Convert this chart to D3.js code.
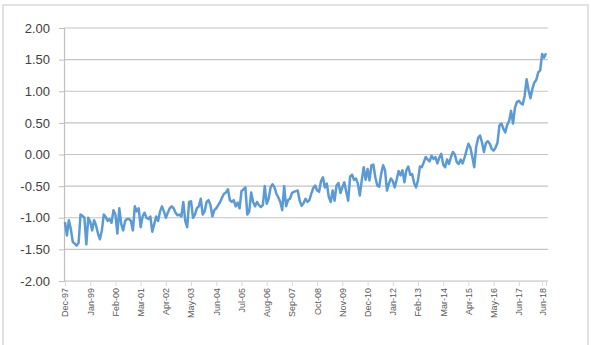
<!DOCTYPE html>
<html>
<head>
<meta charset="utf-8">
<script src="https://cdn.jsdelivr.net/npm/d3@7"></script>
<style>
  body { margin: 0; background: #fff; }
  svg { display: block; font-family: "Liberation Sans", Arial, sans-serif; }
</style>
</head>
<body>
<svg id="chart"></svg>
<script>
// monthly values, Dec-97 .. Dec-18
const values = [
  -1.07, -1.28, -1.04, -1.18, -1.38, -1.41, -1.44, -1.40, -0.95, -0.97, -1.00, -1.42,
  -1.00, -1.06, -1.20, -1.04, -1.12, -1.25, -1.34, -1.20, -0.95, -0.99, -1.05, -1.02,
  -1.08, -0.88, -0.95, -1.25, -0.85, -1.10, -1.20, -1.05, -1.02, -1.02, -1.05, -1.20,
  -0.82, -0.90, -0.85, -1.15, -0.98, -0.92, -1.00, -1.02, -0.98, -1.22, -1.10, -0.98,
  -1.05, -0.90, -0.82, -0.90, -1.00, -0.92, -0.85, -0.82, -0.85, -0.92, -0.96, -0.95,
  -0.98, -0.75, -1.05, -1.15, -0.75, -0.74, -1.00, -0.95, -0.85, -0.82, -0.70, -0.95,
  -0.90, -0.75, -0.72, -0.80, -0.98, -0.88, -0.85, -0.80, -0.75, -0.68, -0.62, -0.60,
  -0.55, -0.72, -0.75, -0.72, -0.82, -0.76, -0.85, -0.58, -0.55, -0.52, -0.95, -0.90,
  -0.60, -0.75, -0.82, -0.75, -0.80, -0.83, -0.80, -0.50, -0.78, -0.70, -0.52, -0.47,
  -0.52, -0.62, -0.68, -0.75, -0.88, -0.50, -0.82, -0.72, -0.70, -0.61, -0.59, -0.58,
  -0.57, -0.73, -0.81, -0.77, -0.70, -0.75, -0.72, -0.62, -0.53, -0.49, -0.57, -0.59,
  -0.42, -0.36, -0.52, -0.46, -0.67, -0.75, -0.57, -0.73, -0.49, -0.45, -0.61, -0.52,
  -0.44, -0.59, -0.73, -0.35, -0.32, -0.40, -0.38, -0.46, -0.65, -0.41, -0.20, -0.40,
  -0.23, -0.41, -0.17, -0.16, -0.36, -0.49, -0.51, -0.31, -0.17, -0.25, -0.57, -0.46,
  -0.38, -0.42, -0.52, -0.40, -0.26, -0.33, -0.25, -0.44, -0.25, -0.19, -0.32, -0.31,
  -0.45, -0.52, -0.41, -0.19, -0.20, -0.12, -0.04, -0.08, -0.11, -0.02, -0.07, -0.04,
  -0.14, -0.05, 0.01, -0.16, -0.20, -0.08, -0.15, -0.04, 0.04, 0.00, -0.12, -0.15,
  -0.08, -0.14, -0.05, 0.06, 0.17, 0.11, -0.04, -0.20, 0.12, 0.26, 0.30, 0.19,
  0.04, 0.18, 0.21, 0.17, 0.09, 0.06, 0.11, 0.19, 0.46, 0.49, 0.41, 0.35,
  0.47, 0.53, 0.69, 0.49, 0.74, 0.83, 0.85, 0.81, 0.79, 0.93, 1.19, 1.02,
  0.89, 1.04, 1.14, 1.18, 1.30, 1.33, 1.59, 1.53, 1.60
];

const tickLabels = ["Dec-97", "Jan-99", "Feb-00", "Mar-01", "Apr-02", "May-03", "Jun-04",
  "Jul-05", "Aug-06", "Sep-07", "Oct-08", "Nov-09", "Dec-10", "Jan-12", "Feb-13",
  "Mar-14", "Apr-15", "May-16", "Jun-17", "Jun-18"];

const yTicks = [-2, -1.5, -1, -0.5, 0, 0.5, 1, 1.5, 2];

const fmt = d3.timeFormat("%b-%y");
const months = values.map((v, i) => fmt(new Date(1997, 11 + i, 1)));

const width = 591, height = 345;
const svg = d3.select("#chart").attr("width", width).attr("height", height);

// outer chart frame
svg.append("rect")
   .attr("x", 3).attr("y", 5)
   .attr("width", 585).attr("height", 360)
   .attr("fill", "#fff")
   .attr("stroke", "#d9d9d9")
   .attr("stroke-width", 1.5);

const x = d3.scalePoint().domain(months).range([65, 546]);
const y = d3.scaleLinear().domain([-2, 2]).range([281, 28]);

// gridlines
svg.append("g")
   .selectAll("line")
   .data(yTicks)
   .enter()
   .append("line")
   .attr("x1", 64).attr("x2", 548)
   .attr("y1", d => y(d)).attr("y2", d => y(d))
   .attr("stroke", "#c4c4c4")
   .attr("stroke-width", 1.2);

// y axis
const yAxis = d3.axisLeft(y).tickValues(yTicks).tickSize(5).tickPadding(9)
                .tickFormat(d => d.toFixed(2));
const gy = svg.append("g").attr("transform", "translate(64,0)").call(yAxis);
gy.select(".domain").attr("stroke", "#bfbfbf").attr("stroke-width", 1.2);
gy.selectAll(".tick line").attr("stroke", "#bfbfbf");
gy.selectAll("text").attr("font-size", 13).attr("fill", "#404040");

// x axis
const xAxis = d3.axisBottom(x).tickValues(tickLabels).tickSize(5).tickPadding(4);
const gx = svg.append("g").attr("transform", "translate(0,281)").call(xAxis);
gx.select(".domain").attr("stroke", "#d9d9d9").attr("stroke-width", 1);
gx.selectAll(".tick line").attr("stroke", "#d9d9d9");
gx.selectAll("text")
  .attr("font-size", 9)
  .attr("fill", "#595959")
  .attr("text-anchor", "end")
  .attr("dy", "0.32em")
  .attr("transform", "rotate(-90)")
  .attr("x", -7)
  .attr("y", 0);

// series line
const line = d3.line()
               .x((d, i) => x(months[i]))
               .y(d => y(d));

svg.append("path")
   .datum(values)
   .attr("d", line)
   .attr("fill", "none")
   .attr("stroke", "#5b9bd5")
   .attr("stroke-width", 2.5)
   .attr("stroke-linejoin", "round");
</script>
</body>
</html>
